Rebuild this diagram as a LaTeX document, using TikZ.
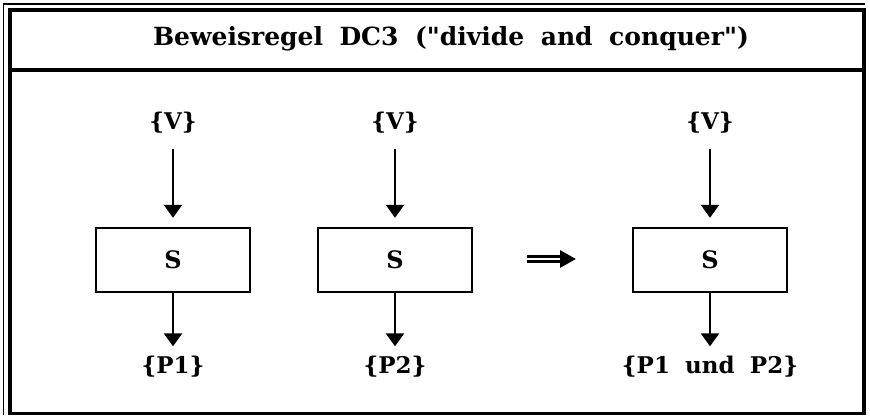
\documentclass[tikz,border=0pt]{standalone}
\usepackage{fontspec}
\newfontfamily\dvs{DejaVu Serif}[WordSpace=1.9]
\usetikzlibrary{arrows.meta}
\begin{document}
\begin{tikzpicture}[x=1pt,y=-1pt,
  stmt/.style={draw,line width=2.4pt,minimum width=154pt,minimum height=64pt,inner sep=0pt,font=\dvs\bfseries\fontsize{24}{26}\selectfont},
  cond/.style={font=\dvs\bfseries\fontsize{23}{26}\selectfont,inner sep=0pt,anchor=base},
  flow/.style={line width=2.4pt,-{Triangle[length=13pt,width=18pt]}},
  implies/.style={double,double distance=1.3pt,line width=2.9pt,-{Triangle[length=16pt,width=17pt]}}]
\useasboundingbox (0,0) rectangle (870,418);
% frame: thin offset line along left and top, heavy main border, title band
\draw[line width=1.4pt] (3.5,415) -- (3.5,4) -- (865,4);
\draw[line width=3.2pt] (10,10) rectangle (864,413.5);
\draw[line width=3.2pt] (10,70) -- (864,70);
\node[font=\dvs\bfseries\fontsize{25}{28}\selectfont,anchor=base] (title) at (451,45) {Beweisregel DC3 ("divide and conquer")};
% three statement blocks
\node[stmt] (s1) at (173,260) {S};
\node[stmt] (s2) at (395,260) {S};
\node[stmt] (s3) at (710,260) {S};
% preconditions
\node[cond] (v1) at (173,129) {\{V\}};
\node[cond] (v2) at (395,129) {\{V\}};
\node[cond] (v3) at (710,129) {\{V\}};
% postconditions
\node[cond] (p1) at (173,373) {\{P1\}};
\node[cond] (p2) at (395,373) {\{P2\}};
\node[cond] (p3) at (710,373) {\{P1 und P2\}};
% arrows
\foreach \i in {1,2,3}{
  \draw[flow] ([yshift=-16pt]v\i.south) -- ([yshift=9pt]s\i.north);
  \draw[flow] (s\i.south) -- ([yshift=9pt]p\i.north);
}
\coordinate (ia) at (527,259);
\coordinate (ib) at (576,259);
\draw[implies] (ia) -- (ib);
\end{tikzpicture}
\end{document}
